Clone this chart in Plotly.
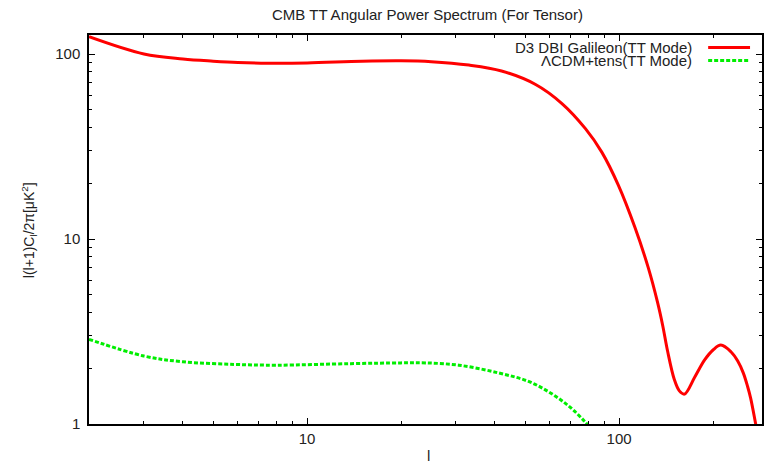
import plotly.graph_objects as go

# Data
ell_d3 = [2, 3, 4, 5, 6, 7.5, 10, 15, 20, 25, 33, 42, 54, 65.6, 78, 88, 99.5, 112.5, 124, 133, 138, 143,
          150.3, 156, 162, 175, 188, 200.4, 212, 228.6, 240, 250, 258, 264, 274, 285]
cl_d3 = [124, 100, 94, 91.5, 90, 89.2, 89.5, 91.5, 92, 91, 87.2, 81, 68.5, 54, 39.5, 29.5, 19.5, 11.5, 7.0, 4.5, 3.4, 2.48,
         1.74, 1.51, 1.45, 1.80, 2.22, 2.52, 2.67, 2.45, 2.19, 1.89, 1.60, 1.38, 1.0, 0.7]

ell_lcdm = [2, 3, 4, 5.85, 8, 13.8, 20, 24, 30.6, 41, 52.5, 67, 78.5, 85]
cl_lcdm = [2.87, 2.33, 2.17, 2.10, 2.08, 2.12, 2.14, 2.14, 2.08, 1.89, 1.67, 1.30, 1.01, 0.85]

name_d3 = "D3 DBI Galileon(TT Mode)"
name_lcdm = "\u039bCDM+tens(TT Mode)"
title_text = "CMB TT Angular Power Spectrum (For Tensor)"
x_major = [10, 100]
x_minor = [2, 3, 4, 5, 6, 7, 8, 9, 20, 30, 40, 50, 60, 70, 80, 90, 200]
y_major = [1, 10, 100]
y_minor = [2, 3, 4, 5, 6, 7, 8, 9, 20, 30, 40, 50, 60, 70, 80, 90]

W, H = 764, 464
L, R, T, B = 89, 0, 35, 40
pw, ph = W - L - R, H - T - B

def px(p):
    return (p - L) / pw

def py(p):
    return (H - B - p) / ph

FONT = "Liberation Sans, Arial, sans-serif"

fig = go.Figure()
fig.add_trace(go.Scatter(x=ell_d3, y=cl_d3, mode="lines", name=name_d3,
                         line=dict(color="#ff0000", width=3, shape="spline", smoothing=1.0)))
fig.add_trace(go.Scatter(x=ell_lcdm, y=cl_lcdm, mode="lines", name=name_lcdm,
                         line=dict(color="#00ee00", width=3, dash="4px,2px", shape="spline", smoothing=1.0)))

axis_common = dict(type="log", showgrid=False, zeroline=False, showline=True, linecolor="black",
                   linewidth=1.5, mirror="ticks", ticks="inside", ticklen=6, tickcolor="black",
                   tickwidth=1, tickfont=dict(family=FONT, size=15, color="#222"))

fig.update_layout(
    width=W, height=H, margin=dict(l=L, r=R, t=T, b=B),
    paper_bgcolor="white", plot_bgcolor="white", showlegend=False,
    xaxis=dict(**axis_common, range=[0.30103, 2.458], tickmode="array", tickvals=x_major,
               ticktext=[str(v) for v in x_major],
               minor=dict(tickmode="array", tickvals=x_minor, ticks="inside", ticklen=3,
                          tickcolor="black", tickwidth=1)),
    yaxis=dict(**axis_common, range=[0, 2.103], tickmode="array", tickvals=y_major,
               ticktext=[str(v) for v in y_major], ticklabelstandoff=4,
               minor=dict(tickmode="array", tickvals=y_minor, ticks="inside", ticklen=3,
                          tickcolor="black", tickwidth=1)),
)

ann = [
    dict(text=title_text, x=px(429), y=py(14), xref="paper", yref="paper",
         showarrow=False, font=dict(family=FONT, size=15, color="#222"), xanchor="center", yanchor="middle"),
    dict(text="l(l+1)C<sub>l</sub>/2\u03c0[\u03bcK<sup>2</sup>]", x=px(29), y=py(230), xref="paper", yref="paper",
         showarrow=False, textangle=-90, font=dict(family=FONT, size=14, color="#222"),
         xanchor="center", yanchor="middle"),
    dict(text="l", x=px(430), y=py(455), xref="paper", yref="paper", showarrow=False,
         font=dict(family=FONT, size=15, color="#222"), xanchor="center", yanchor="middle"),
    dict(text=name_d3, x=px(696), y=py(47.5), xref="paper", yref="paper", showarrow=False,
         font=dict(family=FONT, size=15, color="#222"), xanchor="right", yanchor="middle"),
    dict(text=name_lcdm, x=px(696), y=py(60.5), xref="paper", yref="paper", showarrow=False,
         font=dict(family=FONT, size=15, color="#222"), xanchor="right", yanchor="middle"),
]
fig.update_layout(annotations=ann)
fig.add_shape(type="line", xref="paper", yref="paper", x0=px(710), x1=px(752), y0=py(47.5), y1=py(47.5),
              line=dict(color="#ff0000", width=3))
fig.add_shape(type="line", xref="paper", yref="paper", x0=px(710), x1=px(752), y0=py(60.5), y1=py(60.5),
              line=dict(color="#00ee00", width=3, dash="4px,2px"))

fig.write_html("out.html")
